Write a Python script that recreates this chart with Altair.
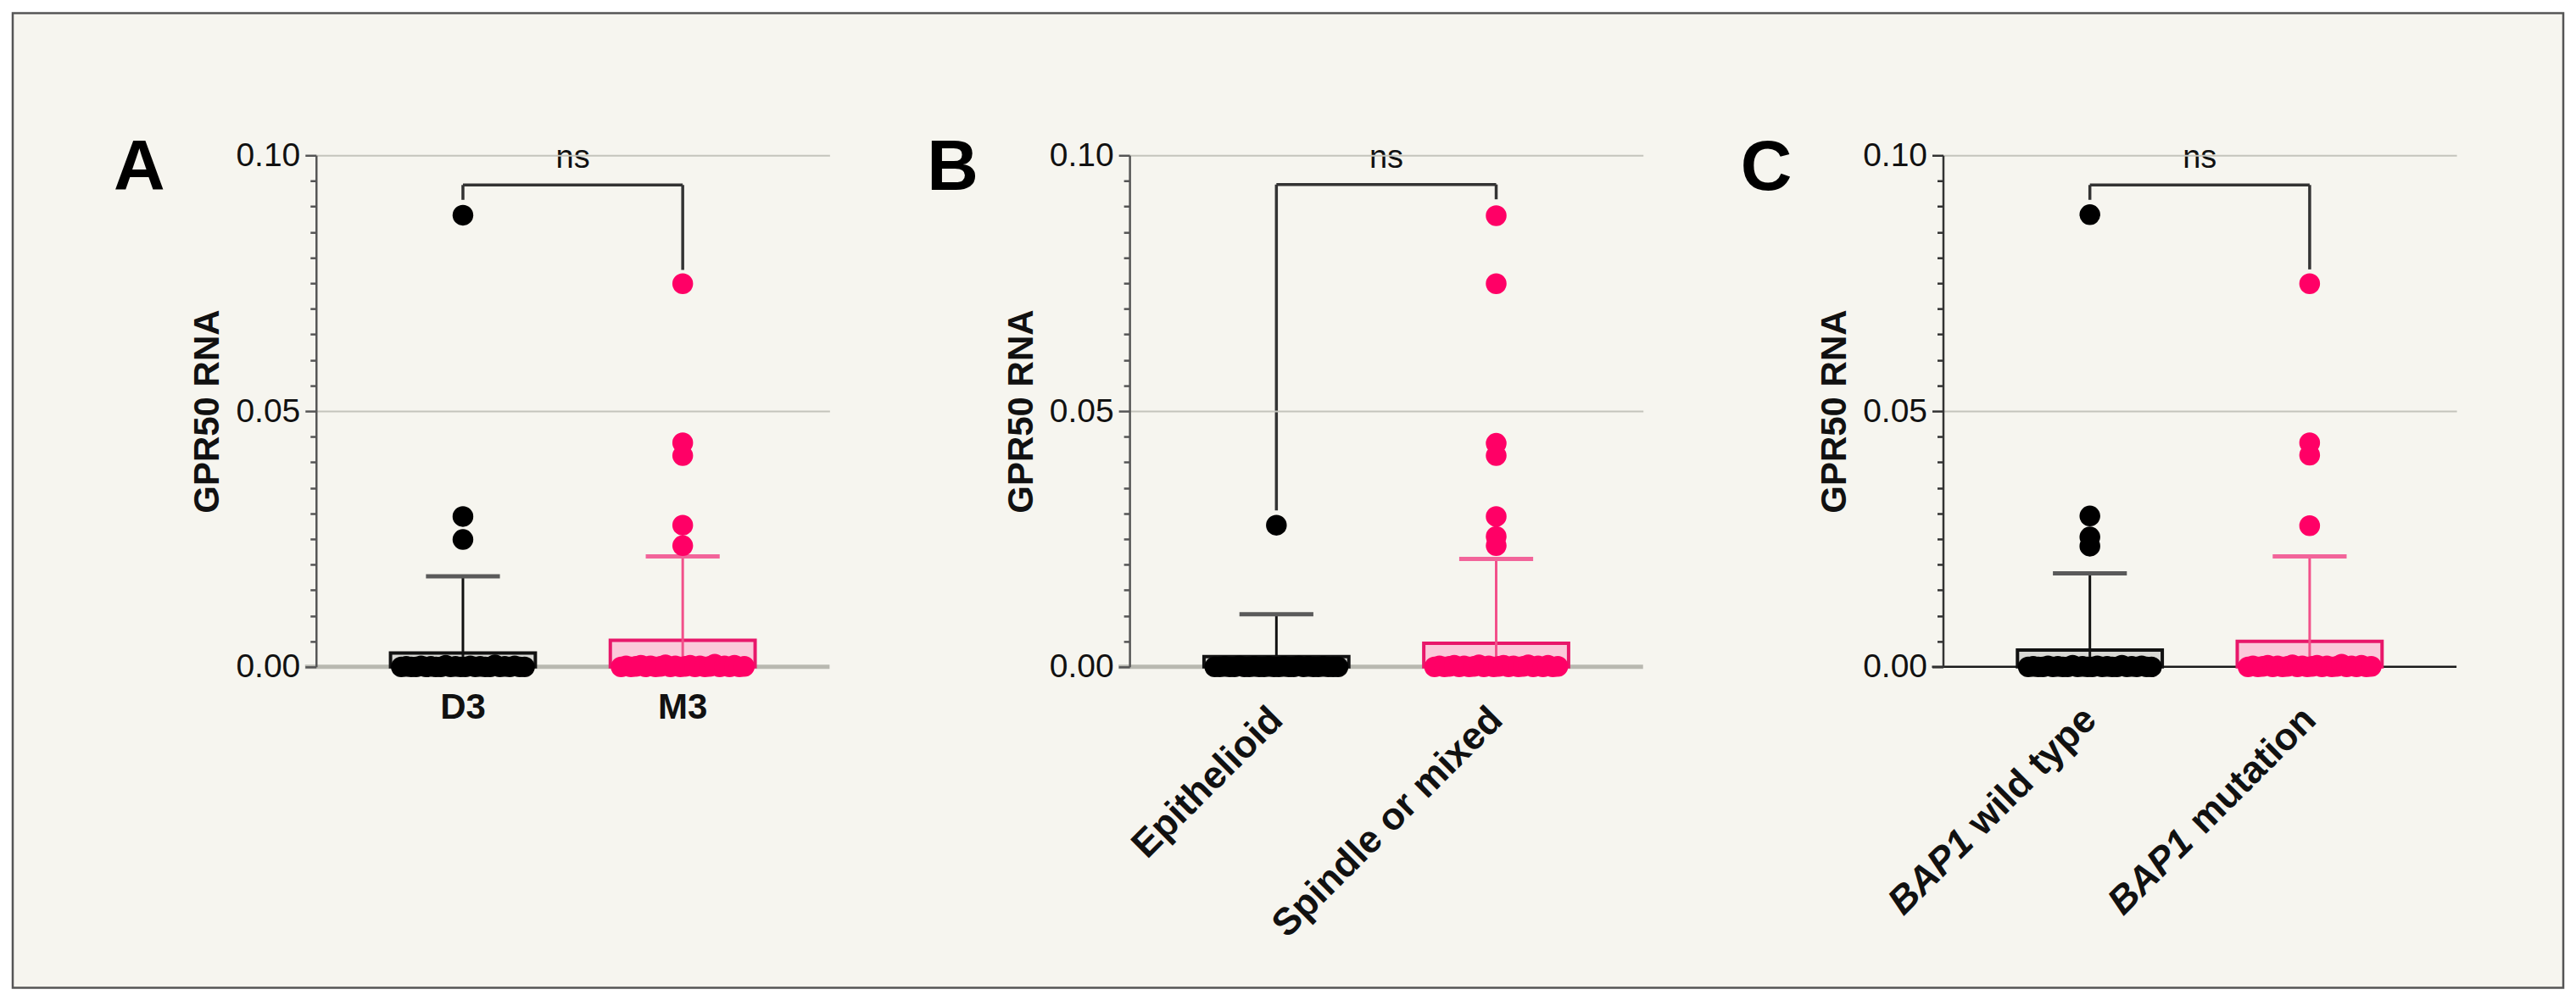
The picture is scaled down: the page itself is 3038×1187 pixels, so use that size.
import altair as alt
import pandas as pd

# ---------------- data ----------------
Y_TICKS = [0.0, 0.005, 0.01, 0.015, 0.02, 0.025, 0.03, 0.035, 0.04, 0.045, 0.05,
           0.055, 0.06, 0.065, 0.07, 0.075, 0.08, 0.085, 0.09, 0.095, 0.1]

# Panel A
A_labels = ["D3", "M3"]
A_median = [0.0002, 0.0006]
A_q3 = [0.0027, 0.0052]
A_whisker = [0.0177, 0.0216]
A_out_1 = [0.0883, 0.0294, 0.0249]
A_out_2 = [0.0749, 0.0438, 0.0413, 0.0277, 0.0237]
A_low_1 = [0.0, 0.0001, 0.0, 0.0, 0.0002, 0.0, 0.0001, 0.0, 0.0, 0.0003, 0.0, 0.0001, 0.0,
           0.0, 0.0002, 0.0, 0.0001, 0.0, 0.0, 0.0004, 0.0, 0.0001, 0.0, 0.0002, 0.0, 0.0]
A_low_2 = [0.0, 0.0002, 0.0, 0.0001, 0.0003, 0.0, 0.0002, 0.0, 0.0001, 0.0004, 0.0, 0.0002, 0.0,
           0.0001, 0.0003, 0.0, 0.0002, 0.0, 0.0001, 0.0005, 0.0, 0.0002, 0.0, 0.0003, 0.0, 0.0001]
A_bracket = [0.0942, 0.0913, 0.0776]   # top, left end, right end

# Panel B
B_labels = ["Epithelioid", "Spindle or mixed"]
B_median = [0.0001, 0.0005]
B_q3 = [0.0020, 0.0046]
B_whisker = [0.0103, 0.0211]
B_out_1 = [0.0277]
B_out_2 = [0.0882, 0.0749, 0.0437, 0.0413, 0.0294, 0.0255, 0.0237]
B_low_1 = [0.0, 0.0, 0.0001, 0.0, 0.0, 0.0002, 0.0, 0.0, 0.0001, 0.0, 0.0, 0.0001, 0.0,
           0.0, 0.0001, 0.0, 0.0, 0.0002, 0.0, 0.0001, 0.0, 0.0, 0.0001, 0.0, 0.0, 0.0]
B_low_2 = [0.0, 0.0002, 0.0, 0.0001, 0.0003, 0.0, 0.0002, 0.0, 0.0001, 0.0004, 0.0, 0.0002, 0.0,
           0.0001, 0.0003, 0.0, 0.0002, 0.0, 0.0001, 0.0004, 0.0, 0.0002, 0.0, 0.0003, 0.0, 0.0001]
B_bracket = [0.0943, 0.0306, 0.0914]

# Panel C
C_prefix = ["BAP1", "BAP1"]
C_labels = ["wild type", "mutation"]
C_median = [0.0002, 0.0006]
C_q3 = [0.0033, 0.0050]
C_whisker = [0.0183, 0.0216]
C_out_1 = [0.0884, 0.0295, 0.0254, 0.0236]
C_out_2 = [0.0749, 0.0438, 0.0414, 0.0276]
C_low_1 = [0.0, 0.0001, 0.0, 0.0, 0.0002, 0.0, 0.0001, 0.0, 0.0, 0.0003, 0.0, 0.0001, 0.0,
           0.0, 0.0002, 0.0, 0.0001, 0.0, 0.0, 0.0003, 0.0, 0.0001, 0.0, 0.0002, 0.0, 0.0]
C_low_2 = [0.0, 0.0002, 0.0, 0.0001, 0.0003, 0.0, 0.0002, 0.0, 0.0001, 0.0004, 0.0, 0.0002, 0.0,
           0.0001, 0.0003, 0.0, 0.0002, 0.0, 0.0001, 0.0005, 0.0, 0.0002, 0.0, 0.0003, 0.0, 0.0001]
C_bracket = [0.0942, 0.0913, 0.0777]

# ---------------- layout / style ----------------
FONT = "Liberation Sans"
BG = "#f6f5ef"
W, H = 606, 604
P0, PSTEP = 0.286, 0.428          # group centre = P0 + PSTEP * g (fraction of width)
BOX_HALF, CAP_HALF = 0.141, 0.072
JIT = 0.0096                       # spacing of the dots piled at zero
DOT = 600
ROT_SIZE = 45

DARK = {"dot": "#000000", "box_stroke": "#111111", "box_fill": "#d8d8d4",
        "whisker": "#111111", "cap": "#5a5a5a"}
PINK = {"dot": "#ff0066", "box_stroke": "#e8176a", "box_fill": "#fbc9da",
        "whisker": "#f2508a", "cap": "#f2649a"}

MAJOR = "abs(datum.value*20 - round(datum.value*20)) < 0.001"

xs = alt.Scale(domain=[0, 1])
ys = alt.Scale(domain=[0, 0.1])


def yaxis(dark):
    return alt.Axis(
        values=Y_TICKS, title="GPR50 RNA", zindex=1,
        labelExpr=f"{MAJOR} ? format(datum.value, '.2f') : ''",
        labelOverlap=False, labelFont=FONT, labelFontSize=39, labelColor="#111",
        labelPadding=6,
        tickSize={"condition": {"test": MAJOR, "value": 13}, "value": 7},
        tickColor=dark, tickWidth=2.5,
        domainColor=dark, domainWidth=2.5,
        grid=True, gridColor="#c4c4bc", gridWidth=2,
        gridOpacity={"condition": {"test": f"datum.value > 0.01 && {MAJOR}", "value": 1}, "value": 0},
        titleFont=FONT, titleFontSize=42, titleFontWeight="bold", titleColor="#111",
        titleX=-115, titleBaseline="alphabetic",
    )


def pick(kind):
    """colour per group without a shared scale"""
    return alt.condition("datum.g == 0", alt.value(DARK[kind]), alt.value(PINK[kind]))


def make_panel(letter, labels, median, q3, whisker, outs, lows, bracket,
               kind, axis_dark, zero_color, zero_width, prefix=None, frame=False):
    Y = lambda f: alt.Y(f, scale=ys, axis=yaxis(axis_dark))
    X = lambda f: alt.X(f, scale=xs, axis=None)

    box_df = pd.DataFrame({"g": [0, 1], "label": labels, "med": median,
                           "q3": q3, "whi": whisker, "q1": [0.0, 0.0]})
    if prefix is not None:
        box_df["prefix"] = prefix
    out_df = pd.DataFrame({"g": [0] * len(outs[0]) + [1] * len(outs[1]),
                           "v": outs[0] + outs[1]})
    low_df = pd.DataFrame({"g": [0] * len(lows[0]) + [1] * len(lows[1]),
                           "v": lows[0] + lows[1]})
    br_df = pd.DataFrame({"top": [bracket[0]], "l": [bracket[1]], "r": [bracket[2]]})

    boxes = alt.Chart(box_df).transform_calculate(
        pos=f"{P0} + {PSTEP} * datum.g",
        bx1=f"datum.pos - {BOX_HALF}", bx2=f"datum.pos + {BOX_HALF}",
        cx1=f"datum.pos - {CAP_HALF}", cx2=f"datum.pos + {CAP_HALF}",
    )

    layers = []
    if frame:
        layers.append(
            alt.Chart(pd.DataFrame({"a": [0]})).mark_rect(
                fill=BG, stroke="#555", strokeWidth=2.5
            ).encode(x=alt.value(-358), x2=alt.value(2652),
                     y=alt.value(-168), y2=alt.value(983))
        )

    zero = alt.Chart(pd.DataFrame({"z": [0.0]})).mark_rule(
        color=zero_color, strokeWidth=zero_width
    ).encode(y=Y("z:Q"), x=alt.value(-13), x2=alt.value(W))

    box = boxes.mark_rect(strokeWidth=4).encode(
        x=X("bx1:Q"), x2="bx2:Q", y=Y("q1:Q"), y2="q3:Q",
        fill=pick("box_fill"), stroke=pick("box_stroke"),
    )
    med = boxes.mark_rule(strokeWidth=3).encode(
        x=X("bx1:Q"), x2="bx2:Q", y=Y("med:Q"), color=pick("box_stroke"),
    )
    whisk = boxes.mark_rule(strokeWidth=3).encode(
        x=X("pos:Q"), y=Y("q1:Q"), y2="whi:Q", color=pick("whisker"),
    )
    cap = boxes.mark_rule(strokeWidth=5).encode(
        x=X("cx1:Q"), x2="cx2:Q", y=Y("whi:Q"), color=pick("cap"),
    )
    low = alt.Chart(low_df).transform_window(
        idx="row_number()", groupby=["g"]
    ).transform_calculate(
        xj=f"{P0} + {PSTEP} * datum.g + ((datum.idx - 1) % 26 - 12.5) * {JIT}"
    ).mark_circle(size=DOT, opacity=1).encode(
        x=X("xj:Q"), y=Y("v:Q"), color=pick("dot"),
    )
    out = alt.Chart(out_df).transform_calculate(
        pos=f"{P0} + {PSTEP} * datum.g"
    ).mark_circle(size=DOT, opacity=1).encode(
        x=X("pos:Q"), y=Y("v:Q"), color=pick("dot"),
    )

    brc = alt.Chart(br_df).transform_calculate(
        xl=f"{P0}", xr=f"{P0 + PSTEP}", xm=f"{P0 + PSTEP / 2}", ytxt="0.1"
    )
    br_h = brc.mark_rule(color="#333", strokeWidth=3.5).encode(
        x=X("xl:Q"), x2="xr:Q", y=Y("top:Q"))
    br_l = brc.mark_rule(color="#333", strokeWidth=3.5).encode(
        x=X("xl:Q"), y=Y("top:Q"), y2="l:Q")
    br_r = brc.mark_rule(color="#333", strokeWidth=3.5).encode(
        x=X("xr:Q"), y=Y("top:Q"), y2="r:Q")
    ns = brc.transform_calculate(t="'ns'").mark_text(
        font=FONT, fontSize=38, color="#111", baseline="alphabetic", align="center", dy=15
    ).encode(x=X("xm:Q"), y=Y("ytxt:Q"), text="t:N")

    if kind == "flat":
        cat = [boxes.mark_text(font=FONT, fontSize=42, fontWeight="bold", color="#111",
                               baseline="top", align="center", dy=28
                               ).encode(x=X("pos:Q"), y=Y("q1:Q"), text="label:N")]
    else:
        cat = [boxes.mark_text(font=FONT, fontSize=ROT_SIZE, fontWeight="bold", color="#111",
                               baseline="middle", align="right", angle=315, dx=-39, dy=39
                               ).encode(x=X("pos:Q"), y=Y("q1:Q"), text="label:N")]
        if prefix is not None:
            rest_w = 4.557 * ROT_SIZE       # width of " wild type" in Liberation Sans Bold
            cat.append(boxes.mark_text(font=FONT, fontSize=ROT_SIZE, fontWeight="bold",
                                       fontStyle="italic", color="#111",
                                       baseline="middle", align="right", angle=315,
                                       dx=-39 - rest_w, dy=39
                                       ).encode(x=X("pos:Q"), y=Y("q1:Q"), text="prefix:N"))

    letter_txt = alt.Chart(pd.DataFrame({"t": [letter]})).mark_text(
        font=FONT, fontSize=84, fontWeight="bold", color="#000",
        baseline="alphabetic", align="left"
    ).encode(x=alt.value(-239), y=alt.value(41), text="t:N")

    layers += [zero, box, whisk, med, cap, low, out, br_h, br_l, br_r, ns] + cat + [letter_txt]
    return alt.layer(*layers).properties(width=W, height=H)


pA = make_panel("A", A_labels, A_median, A_q3, A_whisker, [A_out_1, A_out_2],
                [A_low_1, A_low_2], A_bracket, "flat", "#555", "#b9b9b1", 5, frame=True)
pB = make_panel("B", B_labels, B_median, B_q3, B_whisker, [B_out_1, B_out_2],
                [B_low_1, B_low_2], B_bracket, "rot", "#555", "#b9b9b1", 5)
pC = make_panel("C", C_labels, C_median, C_q3, C_whisker, [C_out_1, C_out_2],
                [C_low_1, C_low_2], C_bracket, "rot", "#333", "#1a1a1a", 2.5, prefix=C_prefix)

chart = alt.hconcat(pA, pB, pC, spacing=354, bounds="flush").properties(
    padding={"left": 5, "top": 5, "right": 5, "bottom": 5},
    background="white",
).configure_view(strokeWidth=0)

chart.save("out.html", embed_options={"renderer": "svg", "actions": False})
